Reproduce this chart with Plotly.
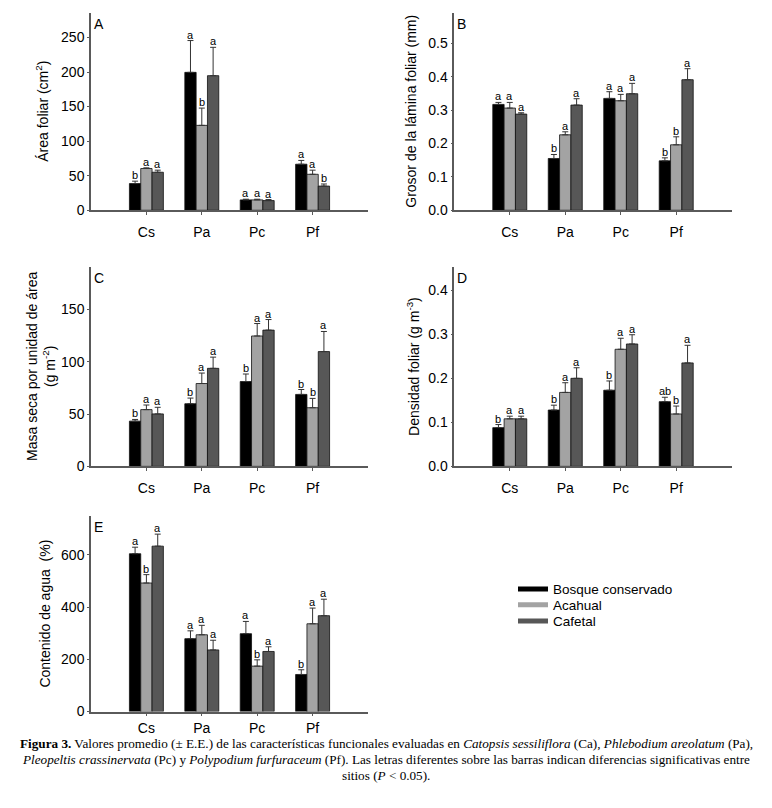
import plotly.graph_objects as go

# page body has an 8px margin, so the figure is drawn at an 8px offset
OFF = 8
W, H = 772 - OFF, 808 - OFF

categories = ["Cs", "Pa", "Pc", "Pf"]
sites = ["Bosque conservado", "Acahual", "Cafetal"]
site_colors = ["#000000", "#a3a3a3", "#575757"]

# Panel A: Área foliar (cm2)
A_mean = [[38.6, 199.5, 15, 66.6], [60.4, 122.8, 15, 52], [55, 194.7, 14, 35]]
A_se = [[3.5, 46, 1, 5.5], [1, 25, 1, 6], [3, 41, 1.5, 3]]
A_let = [["b", "a", "a", "a"], ["a", "b", "a", "a"], ["a", "a", "a", "b"]]

# Panel B: Grosor de la lámina foliar (mm)
B_mean = [[0.317, 0.155, 0.335, 0.148], [0.306, 0.226, 0.328, 0.196], [0.288, 0.315, 0.349, 0.391]]
B_se = [[0.006, 0.012, 0.02, 0.009], [0.017, 0.009, 0.019, 0.024], [0.004, 0.019, 0.031, 0.033]]
B_let = [["a", "b", "a", "b"], ["a", "a", "a", "b"], ["a", "a", "a", "a"]]

# Panel C: Masa seca por unidad de área (g m-2)
C_mean = [[43.2, 59.8, 81, 68.7], [54.2, 79.1, 124.5, 56], [50.1, 93.6, 130.1, 109.6]]
C_se = [[1.6, 5.4, 7.2, 4.7], [4.4, 10, 11.9, 8.9], [6.3, 10.7, 10.1, 19.2]]
C_let = [["b", "b", "b", "b"], ["a", "a", "a", "b"], ["a", "a", "a", "a"]]

# Panel D: Densidad foliar (g m-3)
D_mean = [[0.088, 0.128, 0.173, 0.147], [0.108, 0.168, 0.266, 0.119], [0.108, 0.2, 0.278, 0.235]]
D_se = [[0.007, 0.011, 0.021, 0.01], [0.006, 0.022, 0.025, 0.018], [0.006, 0.024, 0.021, 0.04]]
D_let = [["b", "b", "b", "ab"], ["a", "a", "a", "b"], ["a", "a", "a", "a"]]

# Panel E: Contenido de agua (%)
E_mean = [[604, 279, 298, 142], [492, 294, 174, 336], [633, 236, 230, 367]]
E_se = [[25, 30, 47, 18], [32, 36, 24, 60], [46, 37, 18, 63]]
E_let = [["a", "a", "a", "b"], ["b", "a", "b", "a"], ["a", "a", "a", "a"]]

panels = [
    dict(key="A", mean=A_mean, se=A_se, let=A_let, rng=[0, 285], tickvals=[0, 50, 100, 150, 200, 250], fmt="d",
         px=(91, 368), py=(13.3, 212.3), title="Área foliar (cm<sup>2</sup>)", tx=42, so=5),
    dict(key="B", mean=B_mean, se=B_se, let=B_let, rng=[0, 0.59], tickvals=[0, 0.1, 0.2, 0.3, 0.4, 0.5], fmt=".1f",
         px=(454.3, 731.7), py=(13.3, 212.3), title="Grosor de la lámina foliar (mm)", tx=411, so=5),
    dict(key="C", mean=C_mean, se=C_se, let=C_let, rng=[0, 190], tickvals=[0, 50, 100, 150], fmt="d",
         px=(91, 368), py=(270, 471), title="Masa seca por unidad de área<br>(g m<sup>-2</sup>)", tx=41, so=5),
    dict(key="D", mean=D_mean, se=D_se, let=D_let, rng=[0, 0.452], tickvals=[0, 0.1, 0.2, 0.3, 0.4], fmt=".1f",
         px=(454.3, 731.7), py=(270, 471), title="Densidad foliar (g m<sup>-3</sup>)", tx=413, so=5),
    dict(key="E", mean=E_mean, se=E_se, let=E_let, rng=[0, 750], tickvals=[0, 200, 400, 600], fmt="d",
         px=(91, 368), py=(520.7, 718.7), title="Contenido de agua  (%)", tx=45, so=0),
]

BARGAP = 0.387
bw = (1 - BARGAP) / 3

def fx(p):
    return (p - OFF) / W

def fy(p):
    return 1 - (p - OFF) / H

fig = go.Figure()
layout = dict(width=W, height=H, margin=dict(l=0, r=0, t=0, b=0),
              paper_bgcolor="white", plot_bgcolor="white",
              barmode="group", bargap=BARGAP, bargroupgap=0,
              font=dict(family="Liberation Sans, Arial, sans-serif", size=14, color="black"),
              showlegend=True)
annotations = []
axcol = "#5a5a5a"

for k, p in enumerate(panels):
    n = "" if k == 0 else str(k + 1)
    xa, ya = "x" + n, "y" + n
    for j in range(3):
        fig.add_trace(go.Bar(
            x=categories, y=p["mean"][j], name=sites[j], xaxis=xa, yaxis=ya,
            marker=dict(color=site_colors[j], line=dict(color="#111111", width=0.8)),
            error_y=dict(type="data", symmetric=False, array=p["se"][j], arrayminus=[0] * 4,
                         color="#333333", thickness=1, width=3),
            showlegend=False, hoverinfo="skip"))
        for i in range(4):
            annotations.append(dict(
                x=i + (j - 1) * bw, y=p["mean"][j][i] + p["se"][j][i], xref=xa, yref=ya,
                text=p["let"][j][i], showarrow=False, yanchor="bottom", xanchor="center",
                font=dict(size=11, color="black"), yshift=-2))
    layout["xaxis" + n] = dict(domain=[fx(p["px"][0]), fx(p["px"][1])], anchor=ya,
                               type="category", range=[-1, 4], showline=True, linecolor=axcol, linewidth=1.5,
                               ticks="outside", ticklen=3, tickcolor=axcol, showgrid=False, zeroline=False,
                               tickfont=dict(size=14), ticklabelstandoff=p["so"], fixedrange=True)
    layout["yaxis" + n] = dict(domain=[fy(p["py"][1]), fy(p["py"][0])], anchor=xa,
                               range=p["rng"], tickvals=p["tickvals"], tickformat=p["fmt"],
                               showline=True, linecolor=axcol, linewidth=1.5,
                               ticks="outside", ticklen=2, tickcolor=axcol, showgrid=False, zeroline=False,
                               tickfont=dict(size=14), fixedrange=True)
    # panel letter
    annotations.append(dict(x=fx(p["px"][0] + 1), y=fy(p["py"][0] + 1), xref="paper", yref="paper",
                            text=p["key"], showarrow=False, xanchor="left", yanchor="top",
                            font=dict(size=14)))
    # y title
    annotations.append(dict(x=fx(p["tx"]), y=fy((p["py"][0] + p["py"][1]) / 2), xref="paper", yref="paper",
                            text=p["title"], showarrow=False, textangle=-90, xanchor="center", yanchor="middle",
                            font=dict(size=14)))

# legend entries, one legend per row so the rows can sit 16px apart
leg_rows = [595, 611, 627.5]
for j in range(3):
    lname = "legend" if j == 0 else "legend" + str(j + 1)
    fig.add_trace(go.Scatter(x=[None], y=[None], mode="lines", name=sites[j],
                             line=dict(color=site_colors[j], width=5), xaxis="x", yaxis="y",
                             legend=lname, showlegend=True, hoverinfo="skip"))
    layout[lname] = dict(x=fx(513), y=fy(leg_rows[j]), xanchor="left", yanchor="middle",
                         font=dict(size=13.5), bgcolor="rgba(0,0,0,0)", itemwidth=30)

cap_font = dict(family="Liberation Serif, Times New Roman, serif", size=13.2, color="black")
cap1 = ("<b>Figura 3.</b> Valores promedio (± E.E.) de las características funcionales evaluadas en "
        "<i>Catopsis sessiliflora</i> (Ca), <i>Phlebodium areolatum</i> (Pa),")
cap2 = ("<i>Pleopeltis crassinervata</i> (Pc) y <i>Polypodium furfuraceum</i> (Pf). Las letras diferentes "
        "sobre las barras indican diferencias significativas entre")
cap3 = "sitios (<i>P</i> &lt; 0.05)."
for t, yy in [(cap1, 751), (cap2, 767), (cap3, 783)]:
    annotations.append(dict(x=fx(386), y=fy(yy), xref="paper", yref="paper", text=t, showarrow=False,
                            xanchor="center", yanchor="middle", font=cap_font))

layout["annotations"] = annotations
fig.update_layout(**layout)
fig.write_html("out.html")
